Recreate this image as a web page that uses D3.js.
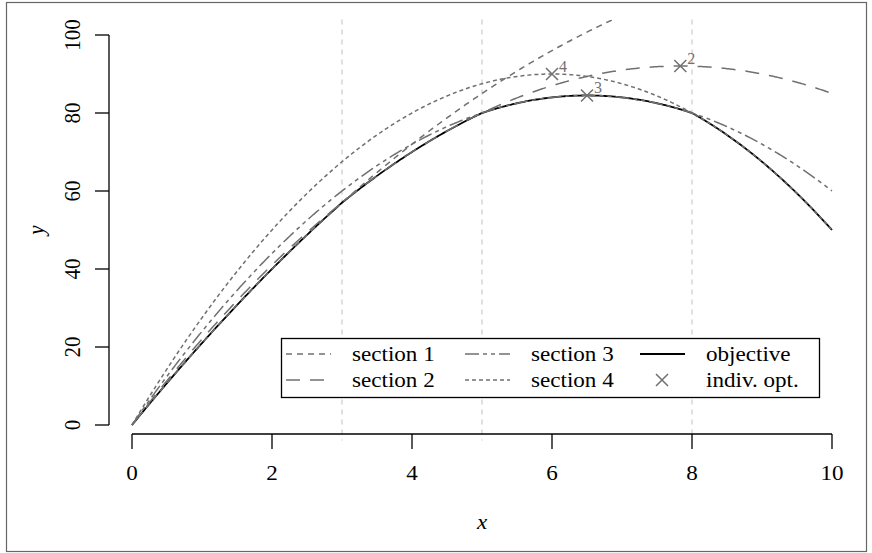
<!DOCTYPE html>
<html>
<head>
<meta charset="utf-8">
<script src="https://cdn.jsdelivr.net/npm/d3@7/dist/d3.min.js"></script>
<style>
  html, body { margin: 0; padding: 0; background: #fff; }
  svg { display: block; }
  text { font-family: "Liberation Serif", "Times New Roman", Times, serif; }
</style>
</head>
<body>
<svg id="chart" width="872" height="553"></svg>
<script>
// Piecewise-quadratic objective built from four section curves.
// Each section curve: y = peakY - curv * (x - peakX)^2
const sectionNames = ["section 1", "section 2", "section 3", "section 4"];
const sectionBreaks = [0, 3, 5, 8, 10];
const peakX = [11, 7.833, 6.5, 6];
const peakY = [121, 92.04, 84.5, 90];
const curvature = [1, 1.5, 2, 2.5];
const optLabels = ["1", "2", "3", "4"];

const xTicks = [0, 2, 4, 6, 8, 10];
const yTicks = [0, 20, 40, 60, 80, 100];

const sectionDash = ["6,5", "14,10", "14,4,4,4,4,4", "4,3"];
const grey = "#707070";
const FONT = "'Liberation Serif', 'Times New Roman', Times, serif";

const svg = d3.select("#chart");

// Outer frame
svg.append("rect").attr("x", 6.5).attr("y", 2.5).attr("width", 860).attr("height", 549)
  .attr("fill", "none").attr("stroke", "#666").attr("stroke-width", 1.2);

// Scales (R-style 4% padding on both axes)
const x = d3.scaleLinear().domain([-0.4, 10.4]).range([104, 860]);
const y = d3.scaleLinear().domain([-4, 104]).range([440.6, 19.4]);

svg.append("defs").append("clipPath").attr("id", "plotclip")
  .append("rect").attr("x", x(-0.4)).attr("y", y(104))
  .attr("width", x(10.4) - x(-0.4)).attr("height", y(-4) - y(104));

const fSec = (i, v) => peakY[i] - curvature[i] * (v - peakX[i]) ** 2;
const sectionOf = v => {
  for (let i = 0; i < sectionNames.length; i++) if (v <= sectionBreaks[i + 1]) return i;
  return sectionNames.length - 1;
};

// Vertical guides at section boundaries
const inner = sectionBreaks.slice(1, -1);
svg.append("g").selectAll("line").data(inner).join("line")
  .attr("x1", d => x(d)).attr("x2", d => x(d))
  .attr("y1", y(104)).attr("y2", y(-4))
  .attr("stroke", "#cfcfcf").attr("stroke-width", 1.3).attr("stroke-dasharray", "5,5");

const xs = d3.range(0, 10.0001, 0.02);
const line = d3.line().x(d => x(d[0])).y(d => y(d[1]));

const plot = svg.append("g").attr("clip-path", "url(#plotclip)");

// Objective
plot.append("path")
  .datum(xs.map(v => [v, fSec(sectionOf(v), v)]))
  .attr("d", line).attr("fill", "none").attr("stroke", "#000").attr("stroke-width", 1.8);

// Section curves
sectionNames.forEach((name, i) => {
  plot.append("path")
    .datum(xs.map(v => [v, fSec(i, v)]))
    .attr("d", line).attr("fill", "none").attr("stroke", grey)
    .attr("stroke-width", 1.5).attr("stroke-dasharray", sectionDash[i]);
});

// Individual optima (those inside the plotted range)
const cross = (g, cx, cy, r) => {
  g.append("path").attr("d", `M${cx - r},${cy - r}L${cx + r},${cy + r}M${cx - r},${cy + r}L${cx + r},${cy - r}`)
    .attr("stroke", grey).attr("stroke-width", 1.5).attr("fill", "none");
};
sectionNames.forEach((name, i) => {
  if (peakX[i] > 10 || peakY[i] > 100) return;
  const cx = x(peakX[i]), cy = y(peakY[i]);
  cross(svg, cx, cy, 6);
  svg.append("text").attr("x", cx + 7).attr("y", cy - 2)
    .attr("font-family", FONT).attr("font-size", 16).attr("fill", grey).text(optLabels[i]);
});

// Axes
const axB = svg.append("g").attr("transform", "translate(0,434)");
axB.append("line").attr("x1", x(0)).attr("x2", x(10)).attr("stroke", "#000").attr("stroke-width", 1.3);
axB.selectAll("line.t").data(xTicks).join("line").attr("class", "t")
  .attr("x1", d => x(d)).attr("x2", d => x(d)).attr("y1", 0).attr("y2", 15)
  .attr("stroke", "#000").attr("stroke-width", 1.3);
axB.selectAll("text").data(xTicks).join("text")
  .attr("transform", d => `translate(${x(d)},46) scale(1.1,1)`)
  .attr("font-family", FONT)
  .attr("text-anchor", "middle").attr("font-size", 21).text(d => d);

const axL = svg.append("g").attr("transform", "translate(109,0)");
axL.append("line").attr("y1", y(0)).attr("y2", y(100)).attr("stroke", "#000").attr("stroke-width", 1.3);
axL.selectAll("line.t").data(yTicks).join("line").attr("class", "t")
  .attr("y1", d => y(d)).attr("y2", d => y(d)).attr("x1", 0).attr("x2", -14)
  .attr("stroke", "#000").attr("stroke-width", 1.3);
axL.selectAll("text").data(yTicks).join("text")
  .attr("transform", d => `translate(-29,${y(d)}) rotate(-90) scale(1,1.1)`)
  .attr("font-family", FONT)
  .attr("text-anchor", "middle").attr("font-size", 21).text(d => d);

svg.append("text").attr("transform", `translate(${x(5)},529) scale(1.1,1)`)
  .attr("font-family", FONT)
  .attr("text-anchor", "middle").attr("font-size", 21).attr("font-style", "italic").text("x");
svg.append("text").attr("transform", `translate(44,${y(50)}) rotate(-90) scale(1,1.1)`)
  .attr("font-family", FONT)
  .attr("text-anchor", "middle").attr("font-size", 21).attr("font-style", "italic").text("y");

// Legend
const legend = svg.append("g");
legend.append("rect").attr("x", 281.5).attr("y", 338.5).attr("width", 538).attr("height", 59)
  .attr("fill", "#fff").attr("stroke", "#000").attr("stroke-width", 1.3);
const legItems = sectionNames.map((n, i) => ({ label: n, dash: sectionDash[i], kind: "line", color: grey }))
  .concat([{ label: "objective", kind: "line", dash: null, color: "#000" },
           { label: "indiv. opt.", kind: "cross", color: grey }]);
const colX = [286, 465, 640];
const rowY = [354, 380];
legItems.forEach((d, k) => {
  const col = Math.floor(k / 2), row = k % 2;
  const lx = colX[col], ly = rowY[row];
  if (d.kind === "line") {
    legend.append("line").attr("x1", lx).attr("x2", lx + 45).attr("y1", ly).attr("y2", ly)
      .attr("stroke", d.color).attr("stroke-width", d.dash ? 1.5 : 1.8)
      .attr("stroke-dasharray", d.dash);
  } else {
    cross(legend, lx + 22, ly, 6);
  }
  legend.append("text").attr("transform", `translate(${lx + 66},${ly + 7}) scale(1.1,1)`)
    .attr("font-family", FONT)
    .attr("font-size", 21).text(d.label);
});
</script>
</body>
</html>
